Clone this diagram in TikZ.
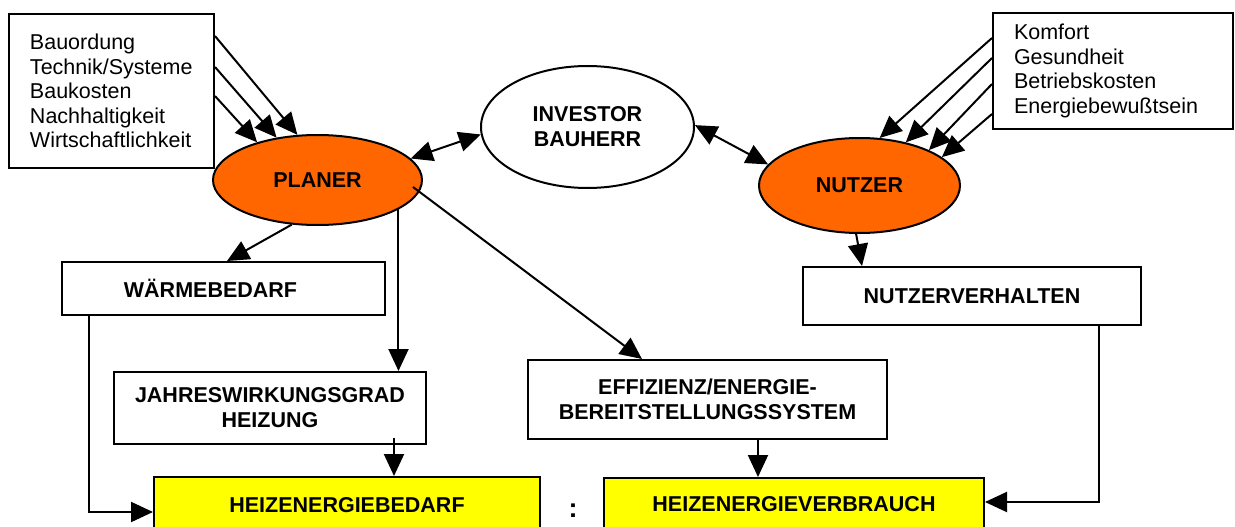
\documentclass[tikz,border=0pt]{standalone}
\usepackage{fontspec}
\setmainfont{Liberation Sans}
\usetikzlibrary{arrows.meta,shapes.geometric,calc}
\definecolor{orng}{HTML}{FF6600}
\definecolor{yel}{HTML}{FFFF00}
\begin{document}
\begin{tikzpicture}[x=1pt,y=-1pt,line width=2pt,
  txt/.style={font=\fontsize{21.5}{24.5}\selectfont},
  bf/.style={font=\fontsize{21.5}{25}\selectfont\bfseries},
  box/.style={draw,rectangle,inner sep=0pt,align=center},
  ell/.style={draw,ellipse,inner sep=0pt,align=center},
  arr/.style={-{Triangle[length=22pt,width=20pt]}},
  darr/.style={{Triangle[length=22pt,width=20pt]}-{Triangle[length=22pt,width=20pt]}}]
\useasboundingbox (0,0) rectangle (1235,527);
\clip (0,0) rectangle (1235,527);
% text boxes
\node[box,txt,minimum width=205pt,minimum height=154pt,text width=163pt,align=left] (lb) at (111.5,91)
  {Bauordung\\Technik/Systeme\\Baukosten\\Nachhaltigkeit\\Wirtschaftlichkeit};
\node[box,txt,minimum width=240pt,minimum height=116pt,text width=198pt,align=left] (rb) at (1113,71)
  {Komfort\\Gesundheit\\Betriebskosten\\Energiebewußtsein};
% ellipses
\node[ell,bf,fill=orng,minimum width=209pt,minimum height=90pt] (pl) at (317.5,180) {PLANER};
\node[ell,bf,fill=white,minimum width=213pt,minimum height=122pt] (inv) at (587.5,127) {INVESTOR\\BAUHERR};
\node[ell,bf,fill=orng,minimum width=201pt,minimum height=95pt] (nu) at (859.5,185.5) {NUTZER};
% boxes
\node[box,bf,minimum width=323pt,minimum height=53pt] (wb) at (223.5,288.5) {WÄRMEBEDARF\hspace*{26pt}};
\node[box,bf,minimum width=312pt,minimum height=72pt] (jh) at (270,408) {JAHRESWIRKUNGSGRAD\\HEIZUNG};
\node[box,bf,minimum width=359pt,minimum height=79pt] (eff) at (707.5,399.5) {EFFIZIENZ/ENERGIE-\\BEREITSTELLUNGSSYSTEM};
\node[box,bf,minimum width=338pt,minimum height=58pt] (nv) at (972,296) {NUTZERVERHALTEN};
\node[box,bf,fill=yel,minimum width=386pt,minimum height=56pt] (hb) at (347,505) {HEIZENERGIEBEDARF};
\node[box,bf,fill=yel,minimum width=380pt,minimum height=52pt] (hv) at (794,504) {HEIZENERGIEVERBRAUCH};
\node[font=\fontsize{27}{30}\selectfont\bfseries,inner sep=0pt] (colon) at (573,511) {:};
% connectors from text boxes
\draw[arr] ([yshift=-23pt]lb.north east) -- (pl.114.4);
\draw[arr] ([yshift=-54pt]lb.north east) -- (pl.134.7);
\draw[arr] ([yshift=-83pt]lb.north east) -- (pl.148.6);
\draw[arr] ([yshift=-26pt]rb.north west) -- (nu.67);
\draw[arr] ([yshift=-46pt]rb.north west) -- (nu.43.5);
\draw[arr] ([yshift=-72pt]rb.north west) -- (nu.27.7);
\draw[arr] ([yshift=-102pt]rb.north west) -- (nu.19.2);
% double arrows
\draw[darr] (pl.13.5) -- (inv.184.3);
\draw[darr] (inv.1) -- (nu.167.4);
% planer outputs
\draw[arr] (pl.240.5) -- ([xshift=3.5pt]wb.north);
\draw[arr] (pl.340) -- (pl.340 |- jh.north);
\draw[arr] ($(pl.center)+(95.5,7)$) -- ([xshift=-65.5pt]eff.north);
\draw[arr] (nu.266) -- ([xshift=-110pt]nv.north);
% to bottom boxes
\coordinate (j1) at ([xshift=124pt,yshift=7pt]jh.south);
\draw[arr] (j1) -- (j1 |- hb.north);
\coordinate (e1) at ([xshift=50.5pt,yshift=2pt]eff.south);
\draw[arr] (e1) -- (e1 |- hv.north);
\coordinate (w1) at ([xshift=-134.5pt]wb.south);
\draw[arr] (w1) |- ([yshift=-7pt]hb.west);
\coordinate (n1) at ([xshift=127pt]nv.south);
\draw[arr] (n1) |- ([yshift=2pt]hv.east);
\end{tikzpicture}
\end{document}
